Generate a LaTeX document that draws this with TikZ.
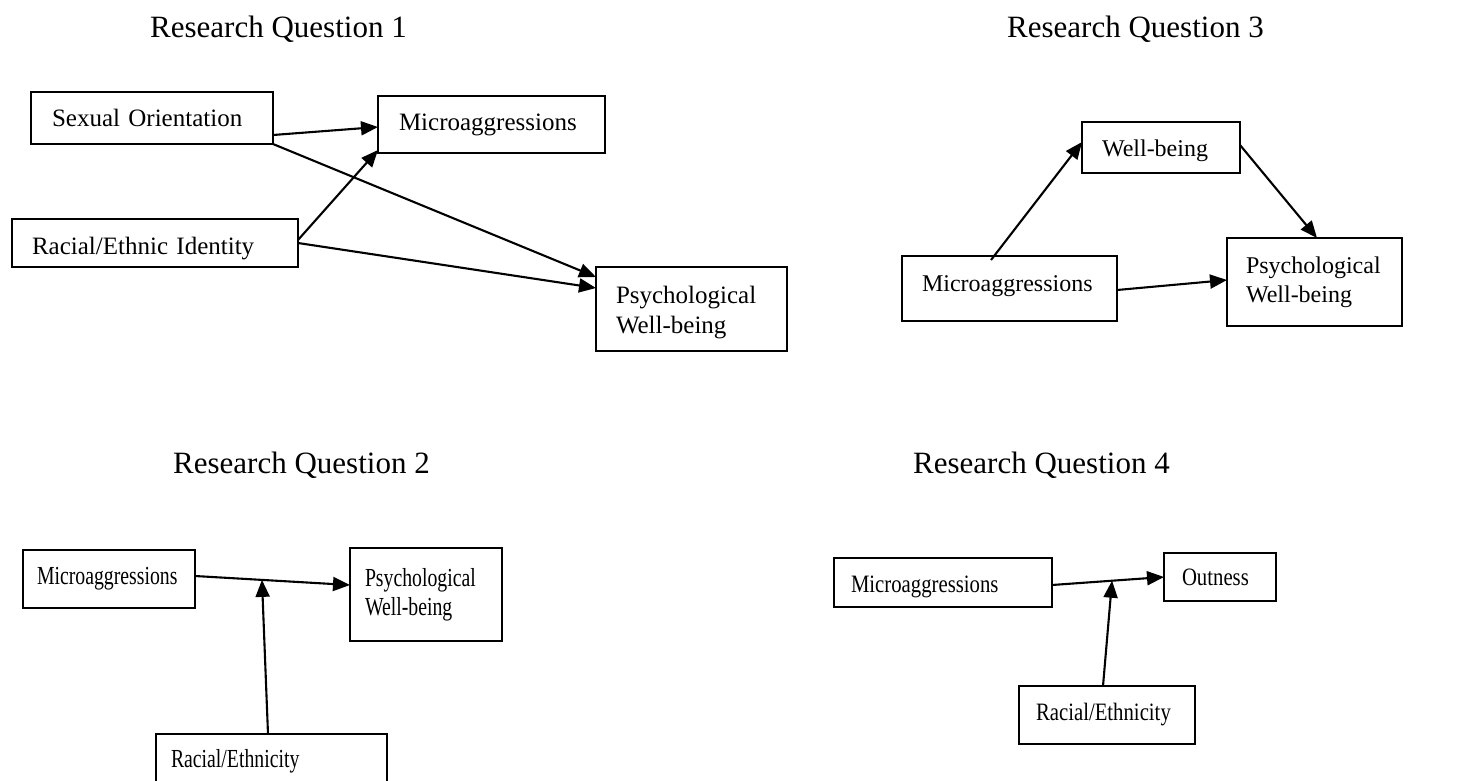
\documentclass[tikz,border=0pt]{standalone}
\usepackage{fontspec}
\setmainfont{Liberation Serif}
\newfontfamily\narrowfont{Liberation Serif}[FakeStretch=0.76]
\newfontfamily\semifont{Liberation Serif}[FakeStretch=0.83]
\usetikzlibrary{arrows.meta,calc}
\hyphenpenalty=10000
\exhyphenpenalty=10000

\begin{document}
\begin{tikzpicture}[x=1pt,y=-1pt,
  box/.style={draw, line width=1.3pt, inner ysep=0pt, outer sep=0pt,
    align=left, anchor=center},
  heading/.style={font=\fontsize{31}{37}\selectfont, inner sep=0pt, anchor=base west},
  fa/.style={font=\fontsize{25}{30}\selectfont},
  fb/.style={font=\narrowfont\fontsize{26}{29}\selectfont},
  fc/.style={font=\fontsize{24}{29}\selectfont},
  fd/.style={font=\semifont\fontsize{25}{30}\selectfont},
  arr/.style={line width=2.1pt, -{Triangle[length=17pt,width=14pt]}}]

\fill[white] (0,0) rectangle (1458,780);
\clip (0,0) rectangle (1458,780);

% headings
\node[heading] (t1) at (150,37) {Research Question 1};
\node[heading] (t3) at (1007,37) {Research Question 3};
\node[heading] (t2) at (173,473) {Research Question 2};
\node[heading] (t4) at (913,473) {Research Question 4};

% Research Question 1
\node[box, fa, minimum width=242pt, minimum height=52pt, inner xsep=21pt,
  text width=200pt] (so) at (152,118) {Sexual Orientation};
\node[box, fa, minimum width=227pt, minimum height=57pt, inner xsep=21pt,
  text width=185pt] (m1) at (491.5,124.5) {Microaggressions};
\node[box, fa, minimum width=286pt, minimum height=48pt, inner xsep=20pt,
  text width=246pt, text height=29pt] (re1) at (155,243) {Racial/Ethnic Identity};
\node[box, fa, minimum width=191pt, minimum height=84pt, inner xsep=20pt,
  text width=151pt, text height=23.5pt] (p1) at (691.5,309) {Psychological\\Well-being};

\draw[arr] ([yshift=-17pt]so.east) -- ([yshift=-2.5pt]m1.west);
\draw[arr] (so.south east) -- ([yshift=-10pt]p1.north west);
\draw[arr] ([yshift=3pt]re1.east) -- ([yshift=3pt]m1.south west);
\draw[arr] (re1.east) -- ([yshift=-21pt]p1.north west);

% Research Question 3
\node[box, fc, minimum width=158pt, minimum height=51pt, inner xsep=20pt,
  text width=118pt, text height=24pt] (wb) at (1161,147.5) {Well-being};
\node[box, fc, minimum width=215pt, minimum height=65pt, inner xsep=20pt,
  text width=175pt, text depth=9pt] (m3) at (1009.5,288.5) {Microaggressions};
\node[box, fc, minimum width=175pt, minimum height=88pt, inner xsep=19pt,
  text width=137pt] (p3) at (1314.5,282) {Psychological\\Well-being};

\draw[arr] ([xshift=-18.5pt,yshift=-4pt]m3.north) -- ([yshift=5.5pt]wb.west);
\draw[arr] ([yshift=2.5pt]wb.east) -- ([xshift=2.5pt]p3.north);
\draw[arr] ([yshift=-1.5pt]m3.east) -- ([yshift=2pt]p3.west);

% Research Question 2
\node[box, fb, minimum width=172pt, minimum height=58pt, inner xsep=14pt,
  text width=144pt] (m2) at (109,579) {Microaggressions};
\node[box, fb, minimum width=152pt, minimum height=93pt, inner xsep=15pt,
  text width=122pt] (p2) at (426,594.5) {Psychological\\Well-being};
\node[box, fb, minimum width=231pt, minimum height=54pt, inner xsep=15pt,
  text width=201pt] (r2) at (271.5,761) {Racial/Ethnicity};

\coordinate (a2) at ([yshift=3pt]m2.east);
\coordinate (b2) at ([yshift=9.5pt]p2.west);
\coordinate (j2) at ($(a2)!0.432!(b2)$);
\draw[arr] (a2) -- (b2);
\draw[arr] ([xshift=-3.5pt]r2.north) -- (j2);

% Research Question 4
\node[box, fd, minimum width=218pt, minimum height=49pt, inner xsep=17pt,
  text width=184pt, text height=25pt] (m4) at (943,582.5) {Microaggressions};
\node[box, fd, minimum width=112pt, minimum height=48pt, inner xsep=18pt,
  text width=76pt] (o4) at (1220,577) {Outness};
\node[box, fd, minimum width=176pt, minimum height=58pt, inner xsep=17pt,
  text width=142pt] (r4) at (1107,715) {Racial/Ethnicity};

\coordinate (a4) at ([yshift=-2.5pt]m4.east);
\coordinate (b4) at (o4.west);
\coordinate (j4) at ($(a4)!0.536!(b4)$);
\draw[arr] (a4) -- (b4);
\draw[arr] ([xshift=-4pt]r4.north) -- (j4);

\end{tikzpicture}
\end{document}
